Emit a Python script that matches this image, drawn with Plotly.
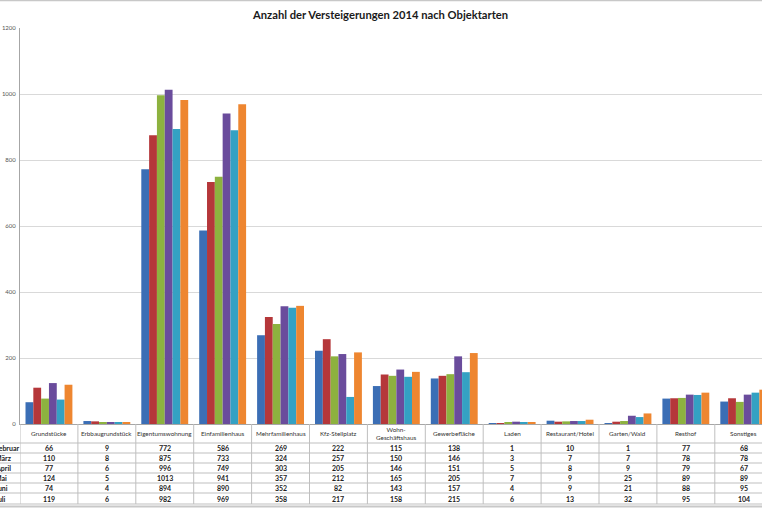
import plotly.graph_objects as go

categories = ["Grundstücke", "Erbbaugrundstück", "Eigentumswohnung", "Einfamilienhaus",
              "Mehrfamilienhaus", "Kfz-Stellplatz", "Wohn-<br>Geschäftshaus", "Gewerbefläche",
              "Laden", "Restaurant/Hotel", "Garten/Wald", "Resthof", "Sonstiges"]
months = ["Februar", "März", "April", "Mai", "Juni", "Juli"]
februar = [66, 9, 772, 586, 269, 222, 115, 138, 1, 10, 1, 77, 68]
maerz = [110, 8, 875, 733, 324, 257, 150, 146, 3, 7, 7, 78, 78]
april = [77, 6, 996, 749, 303, 205, 146, 151, 5, 8, 9, 79, 67]
mai = [124, 5, 1013, 941, 357, 212, 165, 205, 7, 9, 25, 89, 89]
juni = [74, 4, 894, 890, 352, 82, 143, 157, 4, 9, 21, 88, 95]
juli = [119, 6, 982, 969, 358, 217, 158, 215, 6, 13, 32, 95, 104]
series = [februar, maerz, april, mai, juni, juli]
colors = ["#3B6EB5", "#B5373A", "#8DB23F", "#6A4C9C", "#34A1C3", "#EE8630"]
y_ticks = [0, 200, 400, 600, 800, 1000, 1200]

W, H = 762, 508
L, R, T, B = 20, 0, 28, 84
pw, ph = W - L - R, H - T - B
cat_w = 57.9
x_max = -0.5 + pw / cat_w

def px_x(px):
    return (px - L) / pw

def px_y(py):
    return (H - B - py) / ph

xs = list(range(len(categories)))
fig = go.Figure()
for name, vals, col in zip(months, series, colors):
    fig.add_trace(go.Bar(x=xs, y=vals, name=name, marker=dict(color=col, line=dict(width=0)),
                         showlegend=False))

shapes = []
annotations = []
line_col = "#BFBFBF"
row_lines = [424, 443, 453, 463, 473, 483, 493, 504]
for ry in row_lines[1:]:
    shapes.append(dict(type="line", xref="paper", yref="paper", x0=px_x(-5), x1=1.0,
                       y0=px_y(ry), y1=px_y(ry), line=dict(color=line_col, width=1)))
for i in range(len(categories) + 1):
    shapes.append(dict(type="line", xref="x", yref="paper", x0=i - 0.5, x1=i - 0.5,
                       y0=px_y(424), y1=px_y(504), line=dict(color=line_col, width=1)))
shapes.append(dict(type="line", xref="paper", yref="paper", x0=px_x(0), x1=px_x(W),
                   y0=px_y(0.5), y1=px_y(0.5), line=dict(color="#C8C8C8", width=1.5)))
shapes.append(dict(type="line", xref="paper", yref="paper", x0=px_x(0), x1=px_x(W),
                   y0=px_y(506.5), y1=px_y(506.5), line=dict(color="#C8C8C8", width=2)))

tfont = "Lato"
for i, c in enumerate(categories):
    annotations.append(dict(x=i, y=px_y(433.5), xref="x", yref="paper", text=c, showarrow=False,
                            font=dict(family=tfont, size=6.3, color="#333333"),
                            xanchor="center", yanchor="middle"))
row_centers = [448, 458, 468, 478, 488, 498.5]
for m, vals, ry in zip(months, series, row_centers):
    annotations.append(dict(x=px_x(-7), y=px_y(ry), xref="paper", yref="paper", text="<b>" + m + "</b>",
                            showarrow=False, font=dict(family=tfont, size=7, color="#222222"),
                            xanchor="left", yanchor="middle"))
    for i, v in enumerate(vals):
        annotations.append(dict(x=i, y=px_y(ry), xref="x", yref="paper", text="<b>" + str(v) + "</b>",
                                showarrow=False, font=dict(family=tfont, size=7, color="#222222"),
                                xanchor="center", yanchor="middle"))

annotations.append(dict(x=px_x(380), y=px_y(14), xref="paper", yref="paper",
                        text="<b>Anzahl der Versteigerungen 2014 nach Objektarten</b>", showarrow=False,
                        font=dict(family="Lato", size=11.2, color="#1a1a1a"),
                        xanchor="center", yanchor="middle"))

fig.update_layout(
    width=W, height=H,
    margin=dict(l=L, r=R, t=T, b=B, pad=0),
    paper_bgcolor="white", plot_bgcolor="white",
    barmode="group", bargap=0.19, bargroupgap=0,
    xaxis=dict(range=[-0.5, x_max], showticklabels=False, showgrid=False, zeroline=False,
               showline=True, linecolor="#A6A6A6", linewidth=1, ticks=""),
    yaxis=dict(range=[0, 1200], tickvals=y_ticks, showgrid=True, gridcolor="#D9D9D9", gridwidth=1,
               zeroline=False, showline=True, linecolor="#A6A6A6", linewidth=1,
               tickfont=dict(family=tfont, size=6, color="#555555"), ticks="",
               ticklabelstandoff=2),
    shapes=shapes, annotations=annotations,
)
fig.write_html("out.html")
